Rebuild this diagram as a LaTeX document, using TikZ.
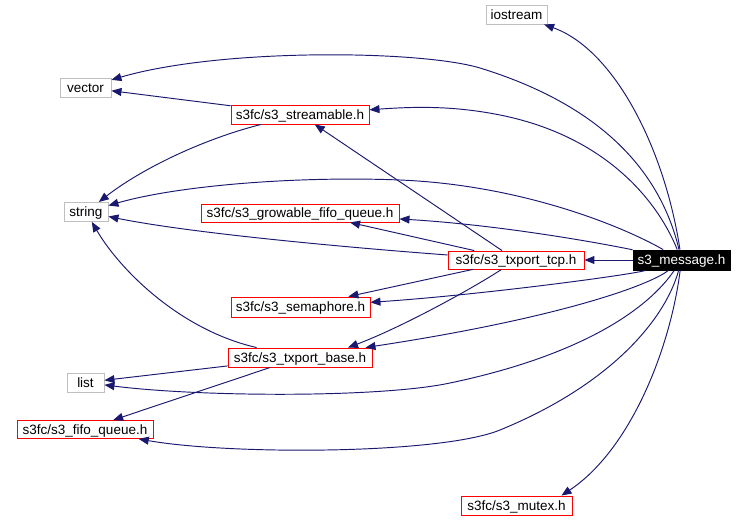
\documentclass[tikz,border=0pt]{standalone}
\usepackage{fontspec}
\setmainfont{Liberation Sans}
\usetikzlibrary{arrows.meta}
\definecolor{edgecol}{HTML}{191970}
\definecolor{graybd}{HTML}{BFBFBF}
\begin{document}
\begin{tikzpicture}[x=1pt,y=-1pt,
  box/.style={draw, line width=0.9pt, inner sep=0pt, text height=11pt, text depth=1pt, font=\fontsize{13.5}{15}\selectfont},
  grayb/.style={box, draw=graybd, fill=white, text=black},
  redb/.style={box, draw=red, fill=white, text=black},
  mainb/.style={box, draw=black, fill=black, text=white},
  dep/.style={draw=edgecol, line width=0.95pt, -{Triangle[length=10pt,width=8pt]}}]
\fill[white] (0,0) rectangle (745,521);
\useasboundingbox (0,0) rectangle (745,521);

\node[grayb, minimum width=61pt, minimum height=19pt] (iostream) at (516.5,14.5) {iostream};
\node[grayb, minimum width=51pt, minimum height=19pt] (vector) at (85.5,87.5) {vector};
\node[redb, minimum width=138pt, minimum height=19pt] (strm) at (300,114.5) {s3fc/s3\_streamable.h};
\node[grayb, minimum width=44pt, minimum height=19pt] (string) at (86,212) {string};
\node[redb, minimum width=198pt, minimum height=18pt] (grow) at (300,213) {s3fc/s3\_growable\_fifo\_queue.h};
\node[redb, minimum width=136pt, minimum height=18pt] (tcp) at (516,260) {s3fc/s3\_txport\_tcp.h};
\node[mainb, minimum width=97pt, minimum height=20pt] (msg) at (681.5,260) {s3\_message.h};
\node[redb, minimum width=139pt, minimum height=20pt] (sem) at (300.5,307) {s3fc/s3\_semaphore.h};
\node[redb, minimum width=144pt, minimum height=19pt] (base) at (300,357.5) {s3fc/s3\_txport\_base.h};
\node[grayb, minimum width=37pt, minimum height=19pt] (list) at (85.5,382.5) {list};
\node[redb, minimum width=136pt, minimum height=18pt] (fifo) at (85,429.5) {s3fc/s3\_fifo\_queue.h};
\node[redb, minimum width=111pt, minimum height=19pt] (mutex) at (516.5,505.5) {s3fc/s3\_mutex.h};

% from s3_message.h
\draw[dep] (msg) .. controls (665,150) and (615,50) .. (iostream);
\draw[dep] (msg) .. controls (660,170) and (600,105) .. (480,68) .. controls (420,50) and (220,48) .. (vector);
\draw[dep] (msg) .. controls (655,195) and (600,135) .. (500,115) .. controls (450,105) and (410,107) .. (strm);
\draw[dep] (msg) .. controls (620,225) and (520,185) .. (400,180) .. controls (300,176) and (180,185) .. (string);
\draw[dep] (msg) .. controls (600,243) and (500,225) .. (grow);
\draw[dep] (msg) -- (tcp);
\draw[dep] (msg) .. controls (630,275) and (480,295) .. (sem);
\draw[dep] (msg) .. controls (650,285) and (560,318) .. (base);
\draw[dep] (msg) .. controls (640,320) and (560,360) .. (450,383) .. controls (380,398) and (200,397) .. (list);
\draw[dep] (msg) .. controls (665,320) and (610,385) .. (500,430) .. controls (440,454.5) and (230,455) .. (fifo);
\draw[dep] (msg) .. controls (670,350) and (630,450) .. ([xshift=45pt]mutex.north);

% from s3_streamable.h
\draw[dep] (strm) -- (vector);
\draw[dep] (strm) .. controls (200,140) and (140,170) .. (string);

% from s3_txport_tcp.h
\draw[dep] (tcp) -- (strm);
\draw[dep] (tcp) -- ([xshift=50pt]grow.south);
\draw[dep] (tcp) .. controls (380,250) and (200,235) .. (string);
\draw[dep] (tcp) -- (sem);
\draw[dep] (tcp) .. controls (470,290) and (400,328) .. ([xshift=48pt]base.north);

% from s3_txport_base.h
\draw[dep] (base) .. controls (180,330) and (120,270) .. (string);
\draw[dep] (base) -- (list);
\draw[dep] (base) -- (fifo);
\end{tikzpicture}
\end{document}
